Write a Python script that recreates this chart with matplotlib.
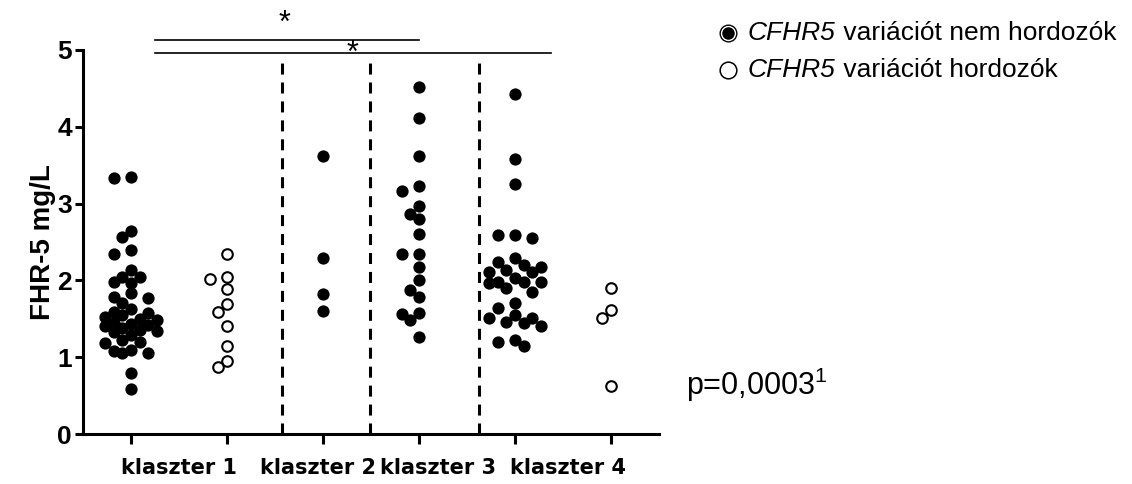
import matplotlib
matplotlib.use("Agg")
import matplotlib.pyplot as plt
from matplotlib.lines import Line2D

plt.rcParams['font.family'] = ['Liberation Sans', 'DejaVu Sans']
plt.rcParams['mathtext.fontset'] = 'custom'
plt.rcParams['mathtext.rm'] = 'Liberation Sans'
plt.rcParams['mathtext.it'] = 'Liberation Sans:italic'

# FHR-5 (mg/L) per group
k1_non = [3.35, 3.33, 2.64, 2.57, 2.39, 2.35, 2.13, 2.05, 2.04, 1.98, 1.97, 1.83,
          1.79, 1.77, 1.71, 1.63, 1.59, 1.57, 1.55, 1.52, 1.50, 1.48, 1.45, 1.43,
          1.42, 1.40, 1.38, 1.36, 1.34, 1.33, 1.29, 1.22, 1.20, 1.18, 1.09, 1.08,
          1.06, 1.05, 0.80, 0.59]
k1_car = [2.34, 2.04, 2.02, 1.89, 1.69, 1.59, 1.41, 1.15, 0.95, 0.87]
k2_non = [3.62, 2.29, 1.82, 1.60]
k3_non = [4.52, 4.12, 3.62, 3.23, 3.17, 2.97, 2.87, 2.80, 2.60, 2.35, 2.34, 2.18,
          2.00, 1.88, 1.78, 1.57, 1.56, 1.49, 1.26]
k4_non = [4.43, 3.58, 3.26, 2.59, 2.59, 2.55, 2.29, 2.24, 2.20, 2.18, 2.14, 2.11,
          2.11, 2.03, 1.98, 1.98, 1.98, 1.97, 1.90, 1.85, 1.70, 1.64, 1.55, 1.51,
          1.51, 1.46, 1.44, 1.40, 1.22, 1.20, 1.14]
k4_car = [1.90, 1.62, 1.51, 0.62]

groups = [k1_non, k1_car, k2_non, k3_non, k4_non, k4_car]
carrier = [False, True, False, False, False, True]
group_pos = [1, 2, 3, 4, 5, 6]

cluster_labels = ['klaszter 1', 'klaszter 2', 'klaszter 3', 'klaszter 4']
label_pos = [1.5, 2.95, 4.2, 5.55]
divider_pos = [2.57, 3.49, 4.63]
sig_lines = [(1.25, 4.0, 5.13), (1.25, 5.375, 4.965)]
sig_stars = [(2.6, 5.44), (3.31, 5.04)]
legend_gene = 'CFHR5'
legend_rest = [' variációt nem hordozók', ' variációt hordozók']


def swarm(ax, x0, values, step_px=8.7, min_dist=10.0, max_k=3):
    # column scatter: shift points sideways (at most max_k steps) to avoid overlap
    placed = []
    xs = []
    inv = ax.transData.inverted()
    order = [0]
    for k in range(1, max_k + 1):
        order += [-k, k]
    for v in values:
        px0, py = ax.transData.transform((x0, v))
        best, best_d = px0, -1
        for k in order:
            px = px0 + k * step_px
            d = min([((px - qx) ** 2 + (py - qy) ** 2) ** 0.5 for qx, qy in placed] + [1e9])
            if d >= min_dist:
                best = px
                break
            if d > best_d:
                best, best_d = px, d
        placed.append((best, py))
        xs.append(inv.transform((best, py))[0])
    return xs


fig = plt.figure(figsize=(11.32, 4.84), dpi=100)
ax = fig.add_axes([0.0733, 0.1033, 0.5088, 0.7934])
ax.set_xlim(0.5, 6.5)
ax.set_ylim(0, 5)

for pos, vals, open_ in zip(group_pos, groups, carrier):
    vals = sorted(vals, reverse=True)
    xs = swarm(ax, pos, vals)
    if open_:
        ax.scatter(xs, vals, s=58, facecolors='white', edgecolors='black',
                   linewidths=1.5, zorder=3)
    else:
        ax.scatter(xs, vals, s=78, color='black', linewidths=0, zorder=3)

for x in divider_pos:
    ax.plot([x, x], [0, 4.91], color='black', lw=2.2,
            linestyle=(0, (3.6, 2.6)), zorder=2)

for x1, x2, y in sig_lines:
    ax.plot([x1, x2], [y, y], color='black', lw=1.2, clip_on=False)
for x, y in sig_stars:
    ax.annotate('*', (x, y), xytext=(0, -11), textcoords='offset points',
                fontsize=22, ha='center', va='baseline', annotation_clip=False)

for s in ['top', 'right']:
    ax.spines[s].set_visible(False)
for s in ['left', 'bottom']:
    ax.spines[s].set_linewidth(2.2)

ax.set_yticks([0, 1, 2, 3, 4, 5])
ax.set_xticks(group_pos)
ax.set_xticklabels([])
ax.tick_params(axis='y', length=6, width=2.2, labelsize=19, pad=2)
ax.tick_params(axis='x', length=7, width=2.2)
for lab in ax.get_yticklabels():
    lab.set_fontweight('bold')
ax.set_ylabel('FHR-5 mg/L', fontsize=20, fontweight='bold', labelpad=1)

for x, lab in zip(label_pos, cluster_labels):
    ax.text(x, -0.0885, lab, transform=ax.get_xaxis_transform(), ha='center',
            va='center', fontsize=15, fontweight='bold', family='DejaVu Sans')

ax.text(6.78, 0.64, r'p=0,0003$^1$', fontsize=22, va='center', ha='left',
        clip_on=False)

# legend drawn by hand
leg_y = [1 - 33 / 484, 1 - 70 / 484]
mx = 728 / 1132
fig.add_artist(Line2D([mx], [leg_y[0]], transform=fig.transFigure, marker='o',
                      markersize=13, color='black', markeredgewidth=0))
fig.add_artist(Line2D([mx], [leg_y[0]], transform=fig.transFigure, marker='o',
                      markersize=10, markerfacecolor='black',
                      markeredgecolor='white', markeredgewidth=1.0))
fig.add_artist(Line2D([mx], [leg_y[1]], transform=fig.transFigure, marker='o',
                      markersize=12, markerfacecolor='white',
                      markeredgecolor='black', markeredgewidth=1.1))
renderer = fig.canvas.get_renderer()
for y, rest in zip(leg_y, legend_rest):
    t = fig.text(748 / 1132, y, legend_gene, fontsize=19, style='italic',
                 va='center', ha='left')
    x_end = t.get_window_extent(renderer).x1 / fig.bbox.width
    fig.text(x_end, y, rest, fontsize=19, va='center', ha='left')

fig.savefig('out.png', dpi=100)
